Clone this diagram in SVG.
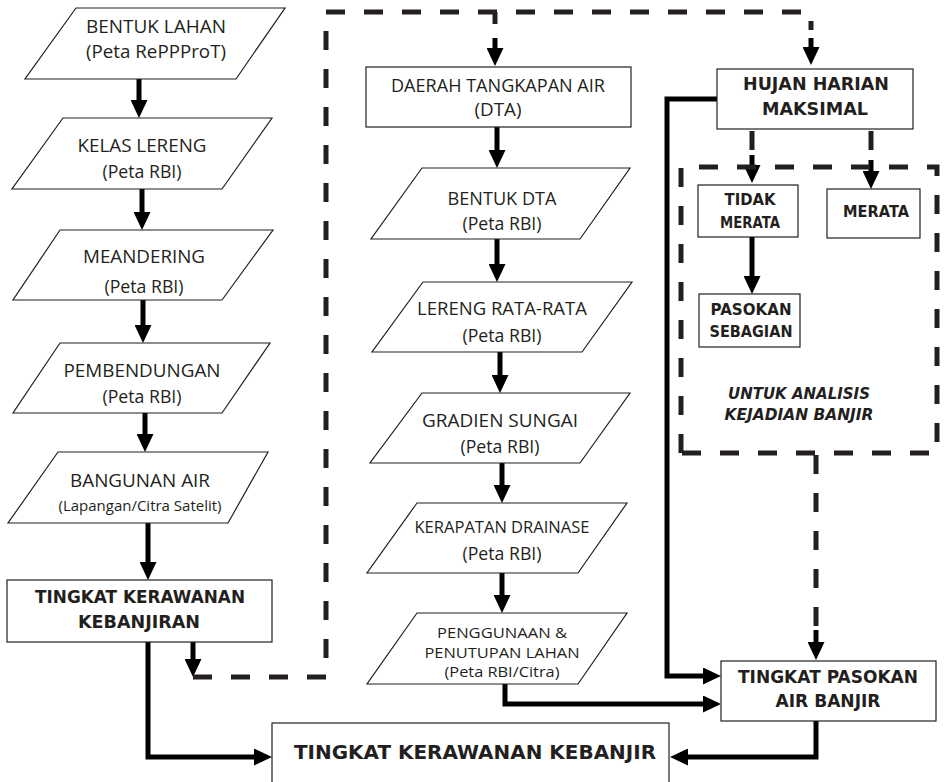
<svg xmlns="http://www.w3.org/2000/svg" width="944" height="782" viewBox="0 0 944 782">
<style>
.bg{fill:#fff}
.box{fill:#fff;stroke:#231f20;stroke-width:1.2}
.t{font-family:"Open Sans","Liberation Sans",sans-serif;font-size:18px;fill:#231f20;text-anchor:middle}
.s{font-size:15.5px}
.xs{font-size:14.5px}
.p{font-size:14px}
.b{font-family:"DejaVu Sans","Liberation Sans",sans-serif;font-weight:bold;font-size:17px;fill:#231f20;text-anchor:middle}
.m{font-size:16px}
.bi{font-style:italic;font-size:15px}
.big{font-size:19px}
.sol{fill:none;stroke:#000;stroke-width:5}
.dash{fill:none;stroke:#231f20;stroke-width:5;stroke-dasharray:19 19}
</style>
<defs>
<marker id="ah" viewBox="0 0 18 17" markerWidth="18" markerHeight="17" refX="4" refY="8.5" orient="auto" markerUnits="userSpaceOnUse">
<path d="M0,0 L18,8.5 L0,17 z" fill="#000"/>
</marker>
</defs>
<rect class="bg" x="0" y="0" width="944" height="782"/>

<g id="connectors">
<path class="sol" d="M139,79 V104" marker-end="url(#ah)"/>
<path class="sol" d="M142,189 V216" marker-end="url(#ah)"/>
<path class="sol" d="M143,300 V329" marker-end="url(#ah)"/>
<path class="sol" d="M145,413 V438" marker-end="url(#ah)"/>
<path class="sol" d="M148,523 V566" marker-end="url(#ah)"/>
<path class="sol" d="M497,127 V154" marker-end="url(#ah)"/>
<path class="sol" d="M497,239 V268" marker-end="url(#ah)"/>
<path class="sol" d="M500,352 V379" marker-end="url(#ah)"/>
<path class="sol" d="M502,463 V489" marker-end="url(#ah)"/>
<path class="sol" d="M502,573 V599" marker-end="url(#ah)"/>
<path class="sol" d="M752,237 V280" marker-end="url(#ah)"/>
<path class="sol" d="M717,99 H667 V676 H707" marker-end="url(#ah)"/>
<path class="sol" d="M505,684 V704 H707" marker-end="url(#ah)"/>
<path class="sol" d="M816,721 V757 H684" marker-end="url(#ah)"/>
<path class="sol" d="M148,642 V757 H258" marker-end="url(#ah)"/>
<path class="sol" d="M193,642 V663" marker-end="url(#ah)"/>
<path class="dash" d="M193,677 H326 V12 H811 V30"/>
<path class="sol" d="M811,38 V51" marker-end="url(#ah)"/>
<path class="dash" d="M495,12 V24"/>
<path class="sol" d="M495,38 V52" marker-end="url(#ah)"/>
<path class="dash" d="M752,131 V160"/>
<path class="sol" d="M752,155 V169" marker-end="url(#ah)"/>
<path class="dash" d="M871,131 V165"/>
<path class="sol" d="M871,160 V175" marker-end="url(#ah)"/>
<path class="dash" d="M816,455 V640"/>
<path class="sol" d="M816,630 V646" marker-end="url(#ah)"/>
</g>

<g id="analysis-frame">
<path class="dash" d="M681,453 V167 H937 V453 Z"/>
<text class="b bi" x="799" y="399" textLength="142" lengthAdjust="spacingAndGlyphs">UNTUK ANALISIS</text>
<text class="b bi" x="799" y="420" textLength="149" lengthAdjust="spacingAndGlyphs">KEJADIAN BANJIR</text>
</g>

<g id="bentuk-lahan">
<polygon class="box" points="76,8 285,8 236,79 25,79"/>
<text class="t" x="156" y="33" textLength="140" lengthAdjust="spacingAndGlyphs">BENTUK LAHAN</text>
<text class="t" x="156" y="58" textLength="140" lengthAdjust="spacingAndGlyphs">(Peta RePPProT)</text>
</g>
<g id="kelas-lereng">
<polygon class="box" points="63,118 272,118 222,189 12,189"/>
<text class="t" x="142" y="152" textLength="129" lengthAdjust="spacingAndGlyphs">KELAS LERENG</text>
<text class="t" x="142" y="178" textLength="79" lengthAdjust="spacingAndGlyphs">(Peta RBI)</text>
</g>
<g id="meandering">
<polygon class="box" points="60,230 273,230 222,300 13,300"/>
<text class="t" x="144" y="263" textLength="122" lengthAdjust="spacingAndGlyphs">MEANDERING</text>
<text class="t" x="144" y="293" textLength="79" lengthAdjust="spacingAndGlyphs">(Peta RBI)</text>
</g>
<g id="pembendungan">
<polygon class="box" points="60,343 270,343 222,413 13,413"/>
<text class="t" x="142" y="377" textLength="157" lengthAdjust="spacingAndGlyphs">PEMBENDUNGAN</text>
<text class="t" x="142" y="403" textLength="79" lengthAdjust="spacingAndGlyphs">(Peta RBI)</text>
</g>
<g id="bangunan-air">
<polygon class="box" points="58,452 268,452 228,523 8,523"/>
<text class="t" x="140" y="487" textLength="140" lengthAdjust="spacingAndGlyphs">BANGUNAN AIR</text>
<text class="t xs" x="140" y="511" textLength="163" lengthAdjust="spacingAndGlyphs">(Lapangan/Citra Satelit)</text>
</g>
<g id="tingkat-kerawanan-kebanjiran">
<rect class="box" x="7" y="580" width="265" height="62"/>
<text class="b" x="140" y="603" textLength="210" lengthAdjust="spacingAndGlyphs">TINGKAT KERAWANAN</text>
<text class="b" x="139" y="628" textLength="122" lengthAdjust="spacingAndGlyphs">KEBANJIRAN</text>
</g>

<g id="dta">
<rect class="box" x="366" y="67" width="265" height="60"/>
<text class="t" x="498" y="92" textLength="214" lengthAdjust="spacingAndGlyphs">DAERAH TANGKAPAN AIR</text>
<text class="t" x="498" y="116" textLength="47" lengthAdjust="spacingAndGlyphs">(DTA)</text>
</g>
<g id="bentuk-dta">
<polygon class="box" points="422,168 630,168 580,239 371,239"/>
<text class="t" x="502" y="205" textLength="109" lengthAdjust="spacingAndGlyphs">BENTUK DTA</text>
<text class="t" x="502" y="230" textLength="79" lengthAdjust="spacingAndGlyphs">(Peta RBI)</text>
</g>
<g id="lereng-rata-rata">
<polygon class="box" points="423,282 632,282 582,352 372,352"/>
<text class="t" x="502" y="315" textLength="170" lengthAdjust="spacingAndGlyphs">LERENG RATA-RATA</text>
<text class="t" x="502" y="342" textLength="79" lengthAdjust="spacingAndGlyphs">(Peta RBI)</text>
</g>
<g id="gradien-sungai">
<polygon class="box" points="422,393 630,393 580,463 370,463"/>
<text class="t" x="500" y="427" textLength="156" lengthAdjust="spacingAndGlyphs">GRADIEN SUNGAI</text>
<text class="t" x="500" y="453" textLength="79" lengthAdjust="spacingAndGlyphs">(Peta RBI)</text>
</g>
<g id="kerapatan-drainase">
<polygon class="box" points="417,503 627,503 578,573 367,573"/>
<text class="t s" x="502" y="533" textLength="175" lengthAdjust="spacingAndGlyphs">KERAPATAN DRAINASE</text>
<text class="t" x="502" y="560" textLength="79" lengthAdjust="spacingAndGlyphs">(Peta RBI)</text>
</g>
<g id="penggunaan-lahan">
<polygon class="box" points="417,613 627,613 578,684 367,684"/>
<text class="t p" x="502" y="638" textLength="130" lengthAdjust="spacingAndGlyphs">PENGGUNAAN &amp;</text>
<text class="t p" x="502" y="657.5" textLength="155" lengthAdjust="spacingAndGlyphs">PENUTUPAN LAHAN</text>
<text class="t p" x="502" y="677" textLength="115" lengthAdjust="spacingAndGlyphs">(Peta RBI/Citra)</text>
</g>

<g id="hujan-harian">
<rect class="box" x="717" y="69" width="196" height="60"/>
<text class="b" x="816" y="90" textLength="146" lengthAdjust="spacingAndGlyphs">HUJAN HARIAN</text>
<text class="b" x="815" y="115" textLength="106" lengthAdjust="spacingAndGlyphs">MAKSIMAL</text>
</g>
<g id="tidak-merata">
<rect class="box" x="698" y="185" width="100" height="52"/>
<text class="b m" x="750" y="205" textLength="51" lengthAdjust="spacingAndGlyphs">TIDAK</text>
<text class="b m" x="750" y="228" textLength="60" lengthAdjust="spacingAndGlyphs">MERATA</text>
</g>
<g id="merata">
<rect class="box" x="827" y="189" width="93" height="49"/>
<text class="b m" x="876" y="217" textLength="66" lengthAdjust="spacingAndGlyphs">MERATA</text>
</g>
<g id="pasokan-sebagian">
<rect class="box" x="699" y="294" width="101" height="53"/>
<text class="b m" x="751" y="315" textLength="81" lengthAdjust="spacingAndGlyphs">PASOKAN</text>
<text class="b m" x="751" y="337" textLength="83" lengthAdjust="spacingAndGlyphs">SEBAGIAN</text>
</g>
<g id="tingkat-pasokan">
<rect class="box" x="721" y="661" width="215" height="60"/>
<text class="b" x="828" y="683" textLength="180" lengthAdjust="spacingAndGlyphs">TINGKAT PASOKAN</text>
<text class="b" x="828" y="707" textLength="105" lengthAdjust="spacingAndGlyphs">AIR BANJIR</text>
</g>
<g id="tingkat-kerawanan-kebanjir">
<rect class="box" x="272" y="723" width="397" height="70"/>
<text class="b big" x="475" y="759" textLength="362" lengthAdjust="spacingAndGlyphs">TINGKAT KERAWANAN KEBANJIR</text>
</g>
</svg>
